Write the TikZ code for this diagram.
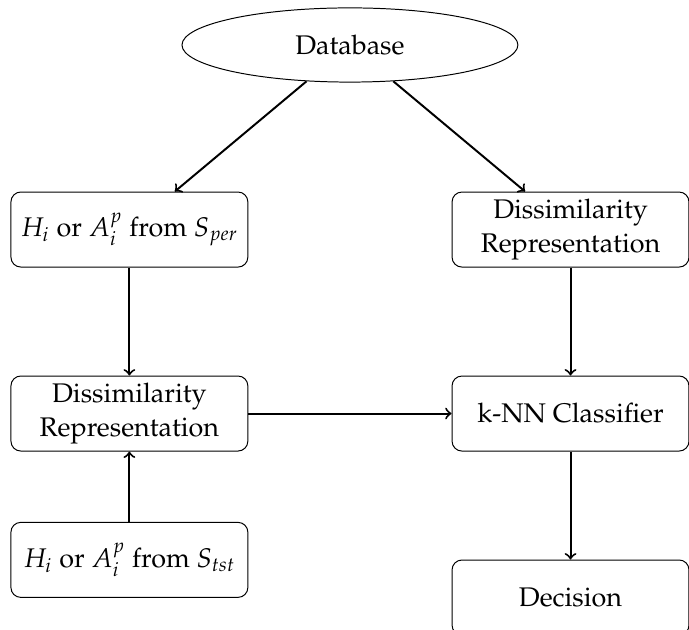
\documentclass[tikz,border=0pt,11pt]{standalone}
\usepackage[T1]{fontenc}
\usepackage{mathpazo}
\usetikzlibrary{shapes.geometric}
\begin{document}
\begin{tikzpicture}[
    block/.style={draw,rounded corners,align=center,minimum width=3.385cm,minimum height=1.072cm,inner sep=2pt},
    store/.style={draw,ellipse,minimum width=4.8cm,minimum height=1.06cm},
    flow/.style={thick,->}]
  \useasboundingbox (0,0) rectangle (9.845,-8.99);
  % source of all samples
  \node[store] (base) at (5.0,-0.643) {Database};
  % left column: the query side
  \node[block] (hper) at (1.849,-3.28) {$H_i$ or $A_i^p$ from $S_{per}$};
  \node[block] (dleft) at (1.849,-5.909) {Dissimilarity\\Representation};
  \node[block] (htst) at (1.849,-8.0) {$H_i$ or $A_i^p$ from $S_{tst}$};
  % right column: the reference side
  \node[block] (dright) at (8.152,-3.28) {Dissimilarity\\Representation};
  \node[block] (knn) at (8.152,-5.909) {k-NN Classifier};
  \node[block] (dec) at (8.152,-8.538) {Decision};
  \draw[flow] (base) -- (hper);
  \draw[flow] (base) -- (dright);
  \draw[flow] (hper) -- (dleft);
  \draw[flow] (htst) -- (dleft);
  \draw[flow] (dleft) -- (knn);
  \draw[flow] (dright) -- (knn);
  \draw[flow] (knn) -- (dec);
\end{tikzpicture}
\end{document}
